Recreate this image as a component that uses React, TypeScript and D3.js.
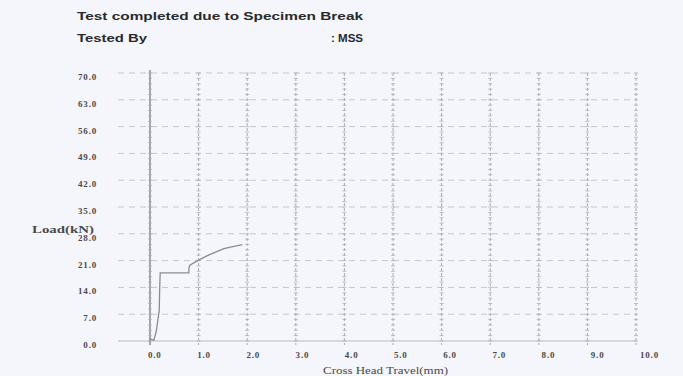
import React from "react";
import * as d3 from "d3";

const travel = [-0.02, 0.08, 0.13, 0.19, 0.2, 0.21, 0.8, 0.8, 0.82, 0.98, 1.18, 1.52, 1.8, 1.9];
const load = [0.6, 0.2, 2.6, 8.0, 14.0, 17.8, 17.8, 19.0, 19.8, 21.0, 22.3, 24.1, 24.9, 25.2];
const xTicks = [0, 1, 2, 3, 4, 5, 6, 7, 8, 9, 10];
const yTicks = [0, 7, 14, 21, 28, 35, 42, 49, 56, 63, 70];
const headerLine1 = "Test completed due to Specimen Break";
const headerLabel = "Tested By";
const headerValue = ": MSS";
const xTitle = "Cross Head Travel(mm)";
const yTitle = "Load(kN)";

export default function App() {
  const W = 683, H = 376;
  const x = d3.scaleLinear().domain([0, 10]).range([150, 636]);
  const xl = d3.scaleLinear().domain([0, 10]).range([148, 640]);
  const y = d3.scaleLinear().domain([0, 70]).range([341, 73]);
  const minor = d3.range(0, 70.01, 1.4);
  const pts = travel.map((t, i) => [t, load[i]] as [number, number]);
  const line = d3.line<[number, number]>().x(d => x(d[0])).y(d => y(d[1]));
  const serif = "'Liberation Serif', 'DejaVu Serif', serif";
  const sans = "'Liberation Sans', Arial, sans-serif";
  return (
    <svg width={W} height={H} style={{ position: "absolute", left: 0, top: 0, background: "#f4f6fc" }}>
      <rect x={0} y={0} width={W} height={H} fill="#f4f6fc" />
      <text x={77} y={20} fontFamily={sans} fontSize={11.5} fill="#2a2a2a" fontWeight="bold" textLength={286} lengthAdjust="spacingAndGlyphs">{headerLine1}</text>
      <text x={77} y={42} fontFamily={sans} fontSize={11.5} fill="#2a2a2a" fontWeight="bold" textLength={70} lengthAdjust="spacingAndGlyphs">{headerLabel}</text>
      <text x={331} y={42} fontFamily={sans} fontSize={11.5} fill="#2a2a2a" fontWeight="bold" textLength={32} lengthAdjust="spacingAndGlyphs">{headerValue}</text>
      {yTicks.map(v => (
        <line key={"h" + v} x1={118} x2={x(10)} y1={y(v)} y2={y(v)} stroke={v === 0 ? "#b8bbc4" : "#c4c7cf"} strokeWidth={1} strokeDasharray={v === 0 ? undefined : "6,5"} />
      ))}
      {xTicks.map(v => (
        <g key={"v" + v}>
          <line x1={x(v)} x2={x(v)} y1={v === 0 ? 70 : y(70)} y2={y(0) + 4} stroke={v === 0 ? "#7a7c84" : "#a9acb5"} strokeWidth={v === 0 ? 1.3 : 1} strokeDasharray={v === 0 ? undefined : "3,2"} />
          {minor.map(m => (
            <line key={m} x1={x(v) - 2} x2={x(v) + 2} y1={y(m)} y2={y(m)} stroke="#b0b3bb" strokeWidth={0.8} />
          ))}
        </g>
      ))}
      <path d={line(pts) || ""} fill="none" stroke="#8a8c94" strokeWidth={1.3} />
      {yTicks.map(v => (
        <text key={"yl" + v} x={97} y={y(v) + 7} textAnchor="end" fontFamily={serif} fontSize={9} fontWeight="bold" fill="#4a4a4a" letterSpacing={0.8}>{v.toFixed(1)}</text>
      ))}
      {xTicks.map(v => (
        <text key={"xl" + v} x={xl(v)} y={358} textAnchor="start" fontFamily={serif} fontSize={9} fontWeight="bold" fill="#4a4a4a" letterSpacing={0.8}>{v.toFixed(1)}</text>
      ))}
      <text x={94} y={233} textAnchor="end" fontFamily={serif} fontSize={10} fontWeight="bold" fill="#4a4a4a" textLength={62} lengthAdjust="spacingAndGlyphs">{yTitle}</text>
      <text x={323} y={374} fontFamily={serif} fontSize={11} fill="#4a4a4a" textLength={125} lengthAdjust="spacingAndGlyphs">{xTitle}</text>
    </svg>
  );
}
